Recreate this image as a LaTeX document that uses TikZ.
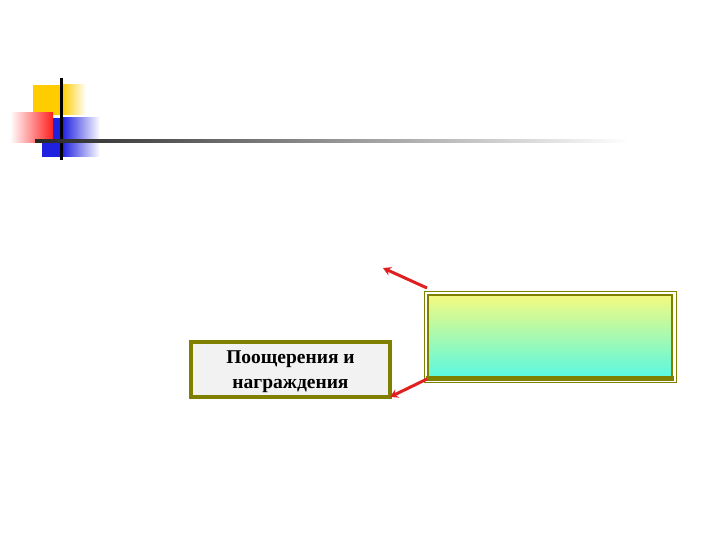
\documentclass[tikz,border=0pt]{standalone}
\usepackage{fontspec}
\setmainfont{Liberation Serif}
\definecolor{olive}{HTML}{808000}
\definecolor{arrred}{HTML}{E02020}
\definecolor{boxgrey}{HTML}{F2F2F2}
\definecolor{topyel}{HTML}{F4FA80}
\definecolor{botcyan}{HTML}{5CF8E0}
\definecolor{decoyel}{HTML}{FFCC00}
\definecolor{decored}{HTML}{FF2020}
\definecolor{decoblue}{HTML}{2020E0}
\usetikzlibrary{arrows.meta}
\tikzset{
  arr/.style={draw=arrred, line width=3pt, -{Stealth[length=8pt,width=9pt]}},
  labelbox/.style={draw=olive, line width=3.5pt, fill=boxgrey, minimum width=199pt, minimum height=55pt, align=center, inner sep=0pt, font=\bfseries\fontsize{19.5}{25}\selectfont},
}
\begin{document}
\begin{tikzpicture}[x=1pt,y=-1pt]
\useasboundingbox (0,0) rectangle (720,540);
% decoration
\fill[decoyel] (33,85) rectangle (62,115);
\shade[left color=decoyel, right color=white] (62,85) rectangle (86,115);
\shade[left color=decoblue, right color=white] (62,118) rectangle (100,157);
\fill[decoblue] (42,118) rectangle (62,157);
\shade[left color=white, right color=decored] (10,113) rectangle (53,143);
\draw[line width=3pt, black] (61,78) -- (61,160);
\shade[left color=black!85, right color=white] (35,139.5) rectangle (630,142.5);
% boxes
\node[labelbox] (b1) at (290.5,369.5) {};
\node[align=center, inner sep=0pt, font=\bfseries\fontsize{19.5}{25}\selectfont] (t) at (290.5,372) {Поощерения и\\награждения};
\shade[top color=topyel, bottom color=botcyan] (428,295) rectangle (672,376);
\draw[olive, line width=1pt] (424,291) rectangle (676,382);
\draw[olive, line width=1.5pt] (428,295) rectangle (672,378);
\fill[olive] (426,376) rectangle (674,381);
\node[inner sep=0, minimum width=252pt, minimum height=91pt] (b2) at (550,336.5) {};
\coordinate (s1) at (427,288);
\coordinate (t1) at (383,268);
\coordinate (s2) at (427,379);
\coordinate (t2) at (390,397);
\draw[arr] (s1) -- (t1);
\draw[arr] (s2) -- (t2);
\end{tikzpicture}
\end{document}
